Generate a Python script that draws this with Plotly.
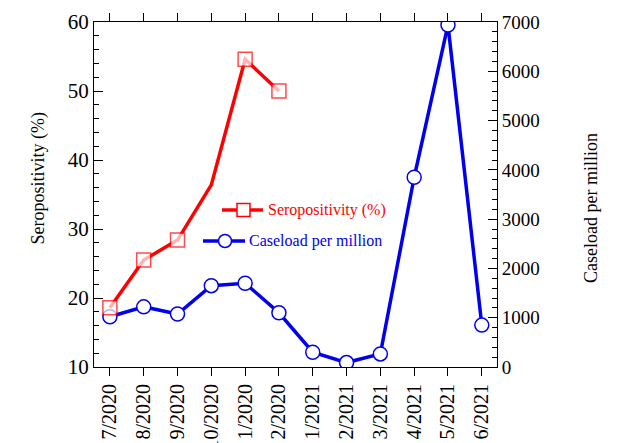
import plotly.graph_objects as go

months = ["7/2020", "8/2020", "9/2020", "10/2020", "1/2020", "2/2020",
          "1/2021", "2/2021", "3/2021", "4/2021", "5/2021", "6/2021"]
sero_months = months[:6]
seropositivity = [18.6, 25.5, 28.4, 36.4, 54.6, 50.0]
sero_marker_size = [14, 14, 14, 0, 14, 14]
caseload = [1020, 1220, 1075, 1650, 1700, 1100, 300, 90, 265, 3850, 6940, 850]

# page body has an 8px margin; work in window pixels and shift
OFF = 8
W, H = 619 - OFF, 443 - OFF
L, R, T, B = 94, 497, 22, 367  # plot area in window pixels

def px(x):
    return (x - L) / (R - L)

def py(y):
    return (B - y) / (B - T)

FONT = "Liberation Serif, Times New Roman, serif"
RED = "#ff0000"
BLUE = "#0000ee"

fig = go.Figure()
fig.add_trace(go.Scatter(
    x=months, y=caseload, mode="lines+markers", yaxis="y",
    line=dict(color=BLUE, width=3.5),
    marker=dict(symbol="circle", size=14, color="white", line=dict(color=BLUE, width=1.5)),
    showlegend=False))
fig.add_trace(go.Scatter(
    x=sero_months, y=seropositivity, mode="lines+markers", yaxis="y2",
    line=dict(color=RED, width=3.5),
    marker=dict(symbol="square", size=sero_marker_size, color="white",
                line=dict(color=RED, width=1.5)),
    showlegend=False))

fig.update_layout(
    width=W, height=H,
    margin=dict(l=L - OFF, r=W - (R - OFF), t=T - OFF, b=H - (B - OFF), pad=0),
    paper_bgcolor="white", plot_bgcolor="white",
    font=dict(family=FONT, color="black"),
    xaxis=dict(
        type="category", categoryorder="array", categoryarray=months,
        range=[-0.47, 11.45], showgrid=False, zeroline=False,
        showline=True, linecolor="black", linewidth=1, mirror="ticks",
        ticks="outside", ticklen=8, tickcolor="black", tickwidth=1,
        tickangle=-90, tickfont=dict(size=20, family=FONT), automargin=False),
    yaxis=dict(
        side="right", range=[0, 7000], dtick=1000, showgrid=False, zeroline=False,
        showline=True, linecolor="black", linewidth=1,
        ticks="inside", ticklen=9, tickcolor="black", tickwidth=1,
        minor=dict(dtick=200, ticks="inside", ticklen=5, tickcolor="black", showgrid=False),
        tickfont=dict(size=19, family=FONT), automargin=False),
    yaxis2=dict(
        side="left", overlaying="y", range=[10, 60], dtick=10, showgrid=False,
        zeroline=False, showline=True, linecolor="black", linewidth=1,
        ticks="inside", ticklen=9, tickcolor="black", tickwidth=1,
        minor=dict(dtick=2, ticks="inside", ticklen=5, tickcolor="black", showgrid=False),
        tickfont=dict(size=21, family=FONT), automargin=False),
)

# axis titles
fig.add_annotation(text="Seropositivity (%)", xref="paper", yref="paper",
                   x=px(25), y=py(178), textangle=-90, showarrow=False,
                   font=dict(size=18, family=FONT, color="black"))
fig.add_annotation(text="Caseload per million", xref="paper", yref="paper",
                   x=px(603), y=py(208), textangle=-90, showarrow=False,
                   font=dict(size=18, family=FONT, color="black"))

# manual legend
fig.add_shape(type="line", xref="paper", yref="paper",
              x0=px(222), x1=px(263), y0=py(210), y1=py(210),
              line=dict(color=RED, width=3.5))
fig.add_shape(type="rect", xref="paper", yref="paper",
              x0=px(237), x1=px(250), y0=py(203.5), y1=py(216.5),
              fillcolor="white", line=dict(color=RED, width=1.5))
fig.add_annotation(text="Seropositivity (%)", xref="paper", yref="paper",
                   x=px(266), y=py(210), xanchor="left", yanchor="middle",
                   showarrow=False, font=dict(size=16, family=FONT, color=RED))
fig.add_shape(type="line", xref="paper", yref="paper",
              x0=px(203), x1=px(245), y0=py(241), y1=py(241),
              line=dict(color=BLUE, width=3.5))
fig.add_shape(type="circle", xref="paper", yref="paper",
              x0=px(218.5), x1=px(231.5), y0=py(234.5), y1=py(247.5),
              fillcolor="white", line=dict(color=BLUE, width=1.5))
fig.add_annotation(text="Caseload per million", xref="paper", yref="paper",
                   x=px(247), y=py(241), xanchor="left", yanchor="middle",
                   showarrow=False, font=dict(size=16, family=FONT, color=BLUE))

fig.write_html("out.html")
